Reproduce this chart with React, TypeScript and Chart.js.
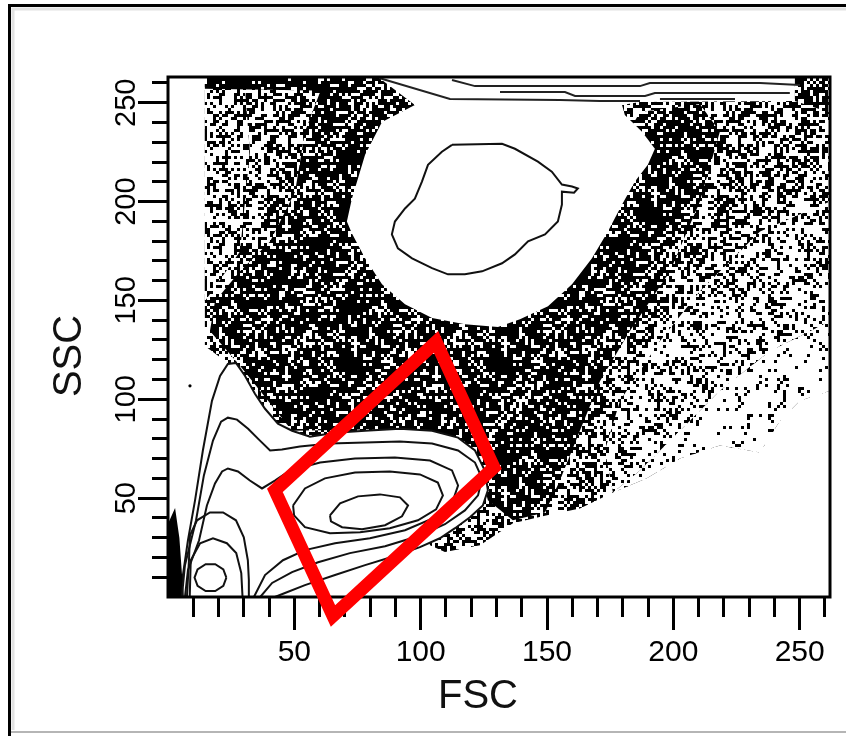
import React, { useEffect, useRef } from 'react';
import { Chart, registerables } from 'chart.js';

Chart.register(...registerables);

type Pt = [number, number];

// ---------- axes ----------
const X_MIN = 0;
const X_MAX = 262;
const Y_MIN = 0;
const Y_MAX = 263;
const xMajorTicks = [50, 100, 150, 200, 250];
const yMajorTicks = [50, 100, 150, 200, 250];
const xMinorTicks = [10, 20, 30, 40, 50, 60, 70, 80, 90, 100, 110, 120, 130, 140, 150, 160, 170, 180, 190, 200, 210, 220, 230, 240, 250, 260];
const yMinorTicks = [10, 20, 30, 40, 50, 60, 70, 80, 90, 100, 110, 120, 130, 140, 150, 160, 170, 180, 190, 200, 210, 220, 230, 240, 250, 260];
const xTitle = 'FSC';
const yTitle = 'SSC';

// ---------- gate (red polygon) ----------
const gate: Pt[] = [[42.3, 53.9], [106.1, 129.0], [129.0, 65.5], [65.3, -9.6], [42.3, 53.9], [106.1, 129.0]];

// ---------- event-cloud regions (density zones) ----------
const cloudMedium: Pt[] = [[14.6, 263], [262, 263], [262, 104.3], [250.1, 99.2], [242.2, 89.2], [234.3, 73.1], [218.4, 76.6], [202.6, 70.0], [189.5, 60.0], [176.1, 52.9], [163.0, 44.8], [150.0, 41.3], [136.5, 37.3], [123.5, 26.2], [109.6, 22.7], [103.7, 26.2], [99.7, 48.9], [52.2, 64.0], [28.5, 89.2], [23.7, 118.4], [14.6, 127.0]];
const cloudLeftLight: Pt[] = [[14.6, 256.4], [30.5, 256.4], [32.4, 225.2], [28.5, 174.8], [14.6, 149.6]];
const cloudDense: Pt[] = [[64.1, 263], [99.7, 263], [111.6, 200], [119.5, 149.6], [155.1, 174.8], [186.8, 245.3], [210.5, 249.4], [218.4, 235.3], [210.5, 200], [198.7, 164.7], [182.8, 134.5], [171.0, 109.3], [163.0, 84.1], [155.1, 58.9], [149.2, 42.8], [136.5, 38.8], [126.6, 48.9], [121.5, 74.1], [91.8, 85.1], [49.1, 84.1], [28.5, 116.9], [16.6, 134.5], [18.6, 149.6], [28.5, 164.7], [40.4, 179.8], [50.3, 205.0], [54.2, 235.3], [60.2, 255.4]];
const cloudTopBand: Pt[] = [[14.6, 263], [64.1, 263], [64.1, 256], [14.6, 257]];
const cloudCorner: Pt[] = [[248.1, 263], [262, 263], [262, 245], [248.1, 250.9]];
const cloudLight: Pt[] = [[262, 200], [262, 139.5], [238.3, 124.4], [218.4, 104.3], [202.6, 84.1], [186.8, 64.0], [176.1, 52.9], [172.9, 74.1], [178.9, 99.2], [194.7, 129.5], [210.5, 154.7], [234.3, 184.9]];
const cloudSparse: Pt[] = [[262, 139.5], [262, 104.3], [250.1, 99.2], [242.2, 89.2], [234.3, 73.1], [218.4, 76.6], [202.6, 70.0], [189.5, 60.0], [176.1, 52.9], [186.8, 64.0], [202.6, 84.1], [218.4, 104.3], [238.3, 124.4]];
const axisWedge: Pt[] = [[0, 0], [0, 37], [2.8, 45], [4.5, 30], [5.5, 12], [6.3, 0]];
const outlierDots: Pt[] = [[8.7, 106.8]];

// ---------- granulocyte blob ----------
const blobOuter: Pt[] = [[83.1, 263], [248.1, 263], [248.1, 250.9], [186.8, 250.4], [179.7, 248.9], [180.8, 243.8], [187.6, 235.3], [192.7, 226.7], [189.9, 218.6], [184.8, 210.1], [179.7, 198.5], [174.1, 184.9], [167.8, 171.3], [159.9, 158.2], [150.4, 147.1], [139.3, 140.5], [130.6, 136.5], [117.5, 138.0], [104.5, 141.1], [93.8, 148.1], [84.7, 158.2], [78.0, 171.3], [72.8, 183.9], [70.8, 189.9], [72.8, 201.5], [78.0, 223.7], [84.7, 240.3], [97.7, 248.9]];
const blobInner: Pt[] = [[112.4, 228.7], [132.2, 229.2], [137.3, 226.7], [146.4, 220.2], [151.9, 215.1], [155.9, 208.6], [159.9, 207.6], [162.2, 206.6], [160.7, 204.5], [155.9, 205.0], [155.9, 198.5], [154.3, 189.9], [149.2, 183.4], [142.5, 179.9], [137.3, 173.3], [132.2, 168.8], [124.3, 164.7], [117.5, 163.2], [110.8, 163.2], [104.5, 166.3], [96.6, 171.3], [91.0, 176.3], [88.6, 183.4], [89.8, 189.9], [93.8, 196.5], [97.7, 201.5], [100.5, 210.1], [102.9, 218.6], [108.4, 225.2], [112.4, 228.7]];

// ---------- off-scale lines at the top ----------
const topLine1: Pt[] = [[83.9, 262.4], [111.6, 251.9], [155.1, 251.4], [170.9, 250.9], [186.8, 250.9]];
const topLine2: Pt[] = [[112.4, 261.5], [121.5, 258.4], [186.8, 258.4], [190.7, 260.0], [234.3, 260.0], [250.1, 259.0]];
const topLine3: Pt[] = [[131.4, 255.4], [157.1, 255.4], [161.1, 253.4], [188.8, 253.4], [192.7, 254.9], [246.1, 254.9]];
const topLine4: Pt[] = [[194.7, 251.9], [224.4, 251.9]];

// ---------- lymphocyte / debris contours ----------
const contourOuter: Pt[] = [[4.7, 0], [5.9, 11.1], [7.9, 28.7], [10.7, 48.9], [13.8, 74.1], [17.4, 99.2], [20.6, 111.8], [23.7, 117.9], [26.9, 118.4], [30.5, 111.8], [34.4, 102.8], [38.4, 95.2], [43.5, 87.7], [49.1, 84.1], [56.2, 81.1], [66.1, 83.1], [78.0, 84.1], [91.8, 85.1], [104.5, 84.1], [114.8, 80.6], [121.5, 74.1], [125.4, 64.0], [126.6, 53.9], [124.6, 46.3], [119.5, 40.3], [113.6, 34.8], [107.6, 29.7], [99.7, 25.2], [89.8, 20.7], [78.0, 16.1], [66.1, 11.1], [54.2, 6.0], [46.3, 2.0], [42.3, 0]];
const contour2: Pt[] = [[5.5, 0], [6.7, 16.1], [11.1, 38.8], [14.2, 61.5], [17.8, 79.1], [21.0, 88.7], [23.7, 90.7], [27.3, 89.7], [31.7, 85.1], [36.4, 79.1], [40.4, 74.1], [45.1, 74.6], [52.2, 76.1], [64.1, 77.6], [78.0, 78.1], [91.8, 78.6], [104.5, 77.6], [114.8, 74.1], [121.5, 68.0], [124.3, 60.0], [122.7, 51.4], [117.5, 43.8], [109.6, 36.8], [98.9, 30.7], [85.9, 25.7], [72.0, 22.2], [59.4, 17.6], [49.1, 12.6], [41.2, 7.1], [36.5, 0]];
const contour3: Pt[] = [[6.7, 0], [7.9, 13.6], [12.3, 28.7], [15.4, 46.3], [18.6, 57.4], [21.4, 63.5], [23.7, 65.0], [27.7, 63.5], [32.4, 58.9], [37.2, 54.9], [42.3, 58.9], [48.3, 64.0], [60.2, 68.0], [74.0, 70.0], [89.8, 70.5], [103.7, 69.0], [112.4, 64.0], [114.8, 56.4], [112.4, 47.4], [105.7, 40.3], [93.8, 33.8], [79.9, 29.7], [66.1, 27.2], [54.2, 23.7], [45.5, 18.6], [38.4, 11.1], [34.0, 0]];
const lymphRing1: Pt[] = [[49.5, 46.3], [54.2, 54.9], [62.1, 60.0], [74.0, 63.0], [87.8, 63.5], [99.7, 62.0], [106.8, 57.9], [108.8, 51.4], [106.1, 44.3], [98.9, 38.8], [87.8, 34.8], [76.0, 32.7], [64.1, 32.2], [54.2, 35.3], [49.9, 41.3], [49.5, 46.3]];
const lymphRing2: Pt[] = [[64.1, 41.3], [68.1, 47.4], [75.2, 50.9], [83.9, 51.9], [91.8, 50.4], [95.0, 46.3], [92.6, 40.8], [85.9, 36.3], [76.8, 34.3], [68.9, 35.3], [64.5, 38.3], [64.1, 41.3]];
const debris1: Pt[] = [[7.5, 0], [8.3, 18.6], [8.7, 31.2], [11.5, 38.8], [16.6, 42.8], [21.8, 42.8], [26.9, 38.8], [30.0, 30.2], [31.6, 18.6], [32.0, 8.6], [32.0, 0]];
const debris2: Pt[] = [[8.6, 0], [9.0, 18.6], [12.7, 27.2], [17.8, 29.7], [23.3, 27.2], [27.0, 22.2], [29.0, 12.1], [29.5, 0]];
const debris3: Pt[] = [[23.1, 9.8], [21.9, 14.0], [18.7, 16.6], [14.9, 16.6], [11.7, 14.0], [10.5, 9.8], [11.7, 5.6], [14.9, 3.0], [18.7, 3.0], [21.9, 5.6], [23.1, 9.8]];

// ---------- helpers ----------
const toXY = (pts: Pt[]) => pts.map(([x, y]) => ({ x, y }));

// texture used to render the dot cloud (purely a fill style)
function speckle(density: number, seed: number): CanvasPattern | string {
  const size = 150;
  const cell = 3;
  const c = document.createElement('canvas');
  c.width = size;
  c.height = size;
  const g = c.getContext('2d');
  if (!g) return '#777';
  g.fillStyle = '#ffffff';
  g.fillRect(0, 0, size, size);
  g.fillStyle = '#000000';
  const n = size / cell;
  for (let j = 0; j < n; j++) {
    for (let i = 0; i < n; i++) {
      let h = Math.imul(i + 1, 374761393) ^ Math.imul(j + 1, 668265263) ^ Math.imul(seed, 1103515245);
      h = Math.imul(h ^ (h >>> 13), 1274126177);
      h = (h ^ (h >>> 16)) >>> 0;
      if (h % 1000 < density * 1000) g.fillRect(i * cell, j * cell, cell, cell);
    }
  }
  return g.createPattern(c, 'repeat') || '#777';
}

const lineDs = (pts: Pt[], color: string, width: number, extra: Record<string, unknown> = {}) => ({
  type: 'line' as const,
  data: toXY(pts),
  borderColor: color,
  borderWidth: width,
  pointRadius: 0,
  fill: false,
  tension: 0,
  ...extra,
});

const areaDs = (pts: Pt[], bg: CanvasPattern | string) => ({
  type: 'line' as const,
  data: toXY(pts),
  borderColor: 'rgba(0,0,0,0)',
  borderWidth: 0,
  pointRadius: 0,
  fill: 'shape',
  backgroundColor: bg,
  tension: 0,
});

const FONT = '"Liberation Sans", Arial, sans-serif';

export default function App() {
  const ref = useRef<HTMLCanvasElement | null>(null);

  useEffect(() => {
    if (!ref.current) return;
    Chart.defaults.font.family = FONT;

    const datasets: any[] = [
      lineDs(gate, '#ff0000', 13, { clip: false, borderJoinStyle: 'miter' }),
      { type: 'line', data: toXY(outlierDots), showLine: false, pointRadius: 1.6, pointBackgroundColor: '#000', pointBorderWidth: 0 },
      lineDs(topLine1, '#222', 2),
      lineDs(topLine2, '#222', 2),
      lineDs(topLine3, '#222', 2),
      lineDs(topLine4, '#222', 2),
      lineDs(blobInner, '#111', 2),
      lineDs(lymphRing2, '#111', 2),
      lineDs(lymphRing1, '#111', 2),
      lineDs(debris3, '#111', 2),
      lineDs(debris2, '#111', 2),
      lineDs(debris1, '#111', 2),
      lineDs(contour3, '#111', 2),
      lineDs(contour2, '#111', 2),
      areaDs(axisWedge, '#000'),
      { ...lineDs(contourOuter, '#111', 2), fill: 'shape', backgroundColor: '#fff' },
      areaDs(blobOuter, '#fff'),
      areaDs(cloudSparse, speckle(0.09, 11)),
      areaDs(cloudLight, speckle(0.3, 7)),
      areaDs(cloudCorner, speckle(0.7, 5)),
      areaDs(cloudTopBand, speckle(0.88, 3)),
      areaDs(cloudDense, speckle(0.73, 2)),
      areaDs(cloudLeftLight, speckle(0.38, 13)),
      areaDs(cloudMedium, speckle(0.48, 1)),
    ];

    const decor = {
      id: 'decor',
      beforeDraw(chart: any) {
        const ctx = chart.ctx;
        ctx.save();
        ctx.fillStyle = '#fff';
        ctx.fillRect(0, 0, chart.width, chart.height);
        ctx.strokeStyle = '#e2e2e2';
        ctx.lineWidth = 3;
        ctx.beginPath();
        ctx.moveTo(846, 9);
        ctx.lineTo(13, 9);
        ctx.lineTo(13, 730);
        ctx.stroke();
        ctx.strokeStyle = '#000';
        ctx.lineWidth = 3;
        ctx.beginPath();
        ctx.moveTo(846, 5.5);
        ctx.lineTo(9.5, 5.5);
        ctx.lineTo(9.5, 736);
        ctx.stroke();
        ctx.strokeStyle = '#b5b5b5';
        ctx.lineWidth = 2;
        ctx.beginPath();
        ctx.moveTo(11, 732);
        ctx.lineTo(846, 732);
        ctx.stroke();
        ctx.restore();
      },
      beforeDatasetDraw(chart: any, args: any) {
        if (args.index !== 0) return;
        const { ctx, chartArea } = chart;
        ctx.save();
        ctx.strokeStyle = '#000';
        ctx.lineWidth = 3;
        ctx.strokeRect(chartArea.left, chartArea.top, chartArea.right - chartArea.left, chartArea.bottom - chartArea.top);
        ctx.restore();
      },
      afterDraw(chart: any) {
        const ctx = chart.ctx;
        ctx.save();
        ctx.fillStyle = '#111';
        ctx.font = '40px ' + FONT;
        ctx.textAlign = 'center';
        ctx.textBaseline = 'middle';
        ctx.fillText(xTitle, 478, 697);
        ctx.translate(70, 356);
        ctx.rotate(-Math.PI / 2);
        ctx.fillText(yTitle, 0, 0);
        ctx.restore();
      },
    };

    const setTicks = (vals: number[]) => (scale: any) => {
      scale.ticks = vals.map((v) => ({ value: v }));
    };

    const chart = new Chart(ref.current, {
      type: 'line',
      data: { datasets },
      options: {
        responsive: false,
        animation: false,
        devicePixelRatio: 1,
        events: [],
        layout: { padding: { top: 77, right: 16, left: 0, bottom: 0 } },
        plugins: { legend: { display: false }, tooltip: { enabled: false }, title: { display: false } },
        scales: {
          x: {
            type: 'linear',
            position: 'bottom',
            min: X_MIN,
            max: X_MAX,
            afterBuildTicks: setTicks(xMajorTicks),
            afterFit: (s: any) => { s.height = 139; },
            border: { display: false },
            grid: { drawOnChartArea: false, drawTicks: true, tickLength: 33, tickWidth: 3, tickColor: '#000' },
            ticks: { autoSkip: false, maxRotation: 0, minRotation: 0, padding: 5, color: '#000', font: { size: 30, family: FONT } },
          },
          y: {
            type: 'linear',
            position: 'left',
            min: Y_MIN,
            max: Y_MAX,
            afterBuildTicks: setTicks(yMajorTicks),
            afterFit: (s: any) => { s.width = 168; },
            border: { display: false },
            grid: { drawOnChartArea: false, drawTicks: true, tickLength: 30, tickWidth: 3, tickColor: '#000' },
            ticks: { autoSkip: false, minRotation: 90, maxRotation: 90, crossAlign: 'center', padding: -13, color: '#000', font: { size: 29, family: FONT } },
          },
          xMinor: {
            type: 'linear',
            axis: 'x',
            position: { y: 0 },
            min: X_MIN,
            max: X_MAX,
            afterBuildTicks: setTicks(xMinorTicks),
            border: { display: false },
            grid: { drawOnChartArea: false, drawTicks: true, tickLength: 20, tickWidth: 3, tickColor: '#000' },
            ticks: { display: false, autoSkip: false },
          },
          yMinor: {
            type: 'linear',
            axis: 'y',
            position: { x: 0 },
            min: Y_MIN,
            max: Y_MAX,
            afterBuildTicks: setTicks(yMinorTicks),
            border: { display: false },
            grid: { drawOnChartArea: false, drawTicks: true, tickLength: 16, tickWidth: 3, tickColor: '#000' },
            ticks: { display: false, autoSkip: false },
          },
        } as any,
      },
      plugins: [decor],
    } as any);

    return () => chart.destroy();
  }, []);

  return (
    <div style={{ position: 'absolute', left: 0, top: 0, width: 846, height: 736 }}>
      <canvas ref={ref} width={846} height={736} style={{ display: 'block' }} />
    </div>
  );
}
